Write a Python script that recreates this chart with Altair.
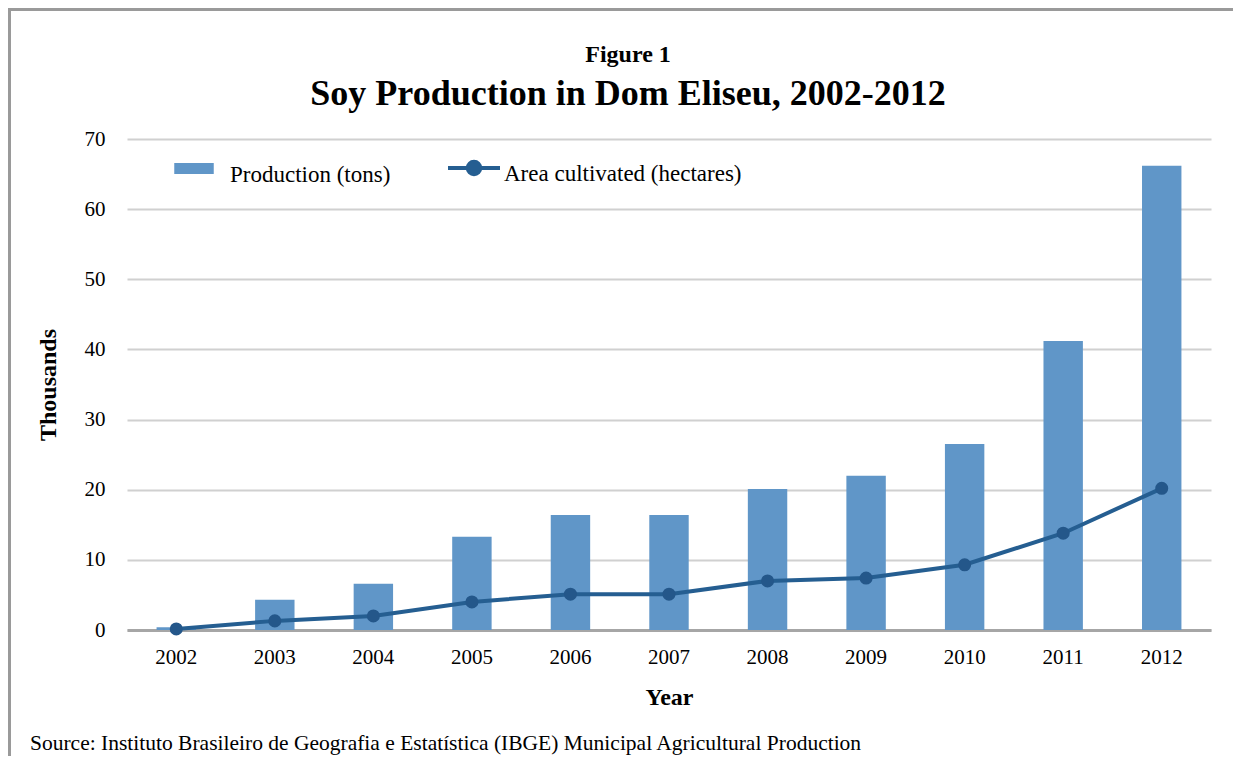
import altair as alt
import pandas as pd

years = ["2002", "2003", "2004", "2005", "2006", "2007", "2008", "2009", "2010", "2011", "2012"]
production = [0.4, 4.3, 6.6, 13.3, 16.4, 16.4, 20.1, 22.0, 26.5, 41.2, 66.2]
area = [0.15, 1.3, 2.0, 4.0, 5.1, 5.1, 7.0, 7.4, 9.3, 13.8, 20.2]

prod_label = "Production (tons)"
area_label = "Area cultivated (hectares)"
fig_label = "Figure 1"
title_text = "Soy Production in Dom Eliseu, 2002-2012"
source_text = "Source: Instituto Brasileiro de Geografia e Estatística (IBGE) Municipal Agricultural Production"

df = pd.DataFrame({"year": years, "production": production, "area": area,
                   "s1": prod_label, "s2": area_label})

FONT = "Liberation Serif"
BAR = "#6096c8"
LINE = "#255e91"
FRAME = "#9a9a9a"

W, H = 1084, 491

x = alt.X("year:N", title="Year",
          scale=alt.Scale(paddingInner=0.6, paddingOuter=0.3),
          axis=alt.Axis(labelAngle=0, labelFontSize=21, labelPadding=16, ticks=False,
                        domainColor="#a6a6a6", domainWidth=3, titleFontSize=24,
                        titleFontWeight="bold", titlePadding=18, grid=False))
y_axis = alt.Axis(values=[0, 10, 20, 30, 40, 50, 60, 70], labelFontSize=21, labelPadding=22,
                  ticks=False, domain=False, gridColor="#d0d0d0", gridWidth=2,
                  titleFontSize=24, titleFontWeight="bold", titlePadding=24)

base = alt.Chart(df)

bars = base.mark_bar().encode(
    x=x,
    y=alt.Y("production:Q", title="Thousands", scale=alt.Scale(domain=[0, 70]), axis=y_axis),
    color=alt.Color("s1:N", scale=alt.Scale(range=[BAR]), title=None,
                    legend=alt.Legend(orient="none", legendX=47, legendY=16,
                                      symbolType="M-1,-0.61H1V-0.05H-1Z", symbolSize=1560,
                                      symbolStrokeWidth=0, labelFontSize=23, labelOffset=16,
                                      labelFont=FONT, labelColor="black", labelLimit=400)),
)

line = base.mark_line(strokeWidth=4).encode(
    x="year:N",
    y="area:Q",
    stroke=alt.Stroke("s2:N", scale=alt.Scale(range=[LINE]), title=None,
                      legend=alt.Legend(orient="none", legendX=319, legendY=7,
                                        symbolType="M-1,-0.23H1M0.24,-0.23A0.24,0.24 0 1,1 -0.24,-0.23A0.24,0.24 0 1,1 0.24,-0.23Z",
                                        symbolSize=2704, symbolStrokeWidth=4,
                                        symbolFillColor=LINE, symbolStrokeColor=LINE,
                                        labelFontSize=23, labelOffset=2, labelFont=FONT,
                                        labelColor="black", labelLimit=500)),
)

points = base.mark_circle(size=170, color="#24578a", opacity=1).encode(
    x="year:N",
    y="area:Q",
)

frame_src = alt.Chart(pd.DataFrame({"k": [0]}))
frame_top = frame_src.mark_rule(stroke=FRAME, strokeWidth=3).encode(
    x=alt.value(-119), x2=alt.value(1400), y=alt.value(-129.5))
frame_left = frame_src.mark_rule(stroke=FRAME, strokeWidth=3).encode(
    x=alt.value(-117.5), y=alt.value(-131), y2=alt.value(900))

fig_txt = alt.Chart(pd.DataFrame({"t": [fig_label]})).mark_text(
    font=FONT, fontSize=24, fontWeight="bold", baseline="alphabetic", align="center"
).encode(text="t:N", x=alt.value(628 - 127), y=alt.value(62 - 139))

title_txt = alt.Chart(pd.DataFrame({"t": [title_text]})).mark_text(
    font=FONT, fontSize=36, fontWeight="bold", baseline="alphabetic", align="center"
).encode(text="t:N", x=alt.value(628 - 127), y=alt.value(105 - 139))

src_txt = alt.Chart(pd.DataFrame({"t": [source_text]})).mark_text(
    font=FONT, fontSize=21.5, baseline="alphabetic", align="left"
).encode(text="t:N", x=alt.value(30 - 127), y=alt.value(750 - 139))

chart = alt.layer(frame_top, frame_left, bars, line, points, fig_txt, title_txt, src_txt).resolve_scale(
    color="independent", stroke="independent"
).properties(
    width=W, height=H,
    autosize=alt.AutoSizeParams(type="none"),
    padding={"left": 119, "top": 131, "right": 22, "bottom": 126},
).configure(font=FONT).configure_axis(
    labelFont=FONT, titleFont=FONT, labelColor="black", titleColor="black"
).configure_legend(labelFont=FONT).configure_view(stroke=None)

chart.save("out.html", embed_options={"renderer": "svg", "actions": False})
